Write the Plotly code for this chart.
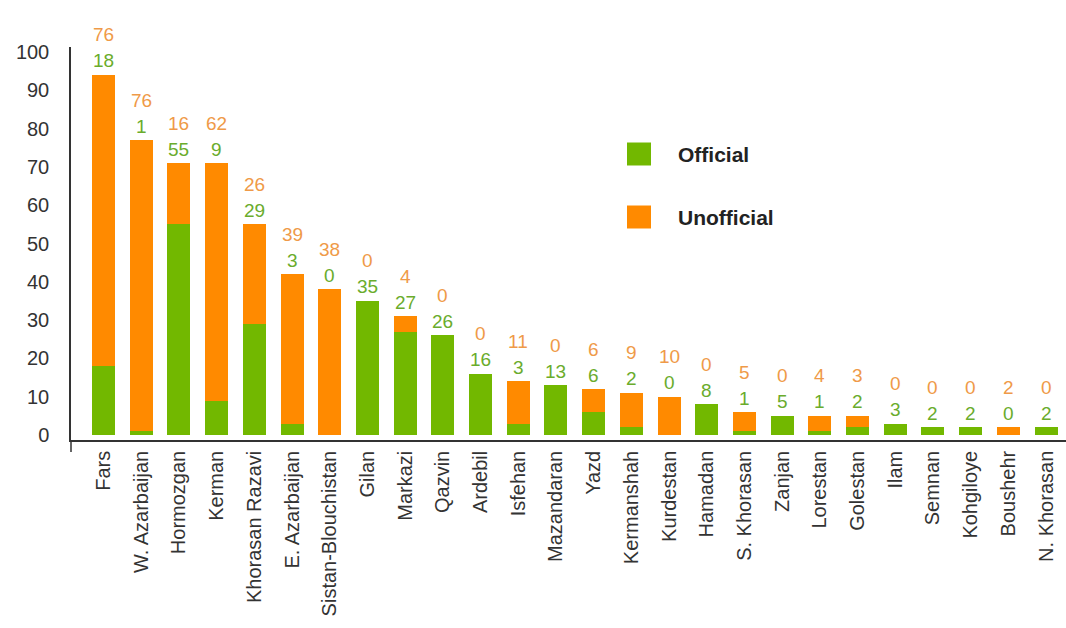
import plotly.graph_objects as go

provinces = ["Fars", "W. Azarbaijan", "Hormozgan", "Kerman", "Khorasan Razavi",
             "E. Azarbaijan", "Sistan-Blouchistan", "Gilan", "Markazi", "Qazvin",
             "Ardebil", "Isfehan", "Mazandaran", "Yazd", "Kermanshah", "Kurdestan",
             "Hamadan", "S. Khorasan", "Zanjan", "Lorestan", "Golestan", "Ilam",
             "Semnan", "Kohgiloye", "Boushehr", "N. Khorasan"]
official = [18, 1, 55, 9, 29, 3, 0, 35, 27, 26, 16, 3, 13, 6, 2, 0, 8, 1, 5, 1, 2, 3, 2, 2, 0, 2]
unofficial = [76, 76, 16, 62, 26, 39, 38, 0, 4, 0, 0, 11, 0, 6, 9, 10, 0, 5, 0, 4, 3, 0, 0, 0, 2, 0]
y_ticks = [0, 10, 20, 30, 40, 50, 60, 70, 80, 90, 100]

GREEN = "#72b800"
ORANGE = "#ff8a00"
GREEN_TXT = "#6aac2c"
ORANGE_TXT = "#ef9a48"
FONT = "Liberation Sans, Arial, sans-serif"

W, H = 1066, 628
ML, MR, MT, MB = 71, 0, 47, 188
PW, PH = W - ML - MR, H - MT - MB


def px_x(x):
    return (x - ML) / PW


def px_y(y):
    return (H - MB - y) / PH


fig = go.Figure()
fig.add_trace(go.Bar(x=provinces, y=official, name="Official",
                     marker=dict(color=GREEN, line=dict(width=0)), showlegend=False))
fig.add_trace(go.Bar(x=provinces, y=unofficial, name="Unofficial",
                     marker=dict(color=ORANGE, line=dict(width=0)), showlegend=False))

annotations = []
for p, o, u in zip(provinces, official, unofficial):
    total = o + u
    annotations.append(dict(x=p, y=total, xref="x", yref="y", text=str(o),
                            showarrow=False, yanchor="middle", yshift=14,
                            font=dict(family=FONT, size=19, color=GREEN_TXT)))
    annotations.append(dict(x=p, y=total, xref="x", yref="y", text=str(u),
                            showarrow=False, yanchor="middle", yshift=40,
                            font=dict(family=FONT, size=19, color=ORANGE_TXT)))

# legend drawn manually (larger swatches than Plotly's built-in legend)
legend_items = [("Official", GREEN, 154), ("Unofficial", ORANGE, 217)]
shapes = []
for name, col, yc in legend_items:
    shapes.append(dict(type="rect", xref="paper", yref="paper",
                       x0=px_x(627), x1=px_x(651), y0=px_y(yc + 11.5), y1=px_y(yc - 11.5),
                       fillcolor=col, line=dict(width=0)))
    annotations.append(dict(xref="paper", yref="paper", x=px_x(676),
                            y=px_y(yc), text=name, showarrow=False,
                            xanchor="left", yanchor="middle",
                            font=dict(family=FONT, size=21, color="#222222", weight="bold")))

# small extension of the y-axis line below the x-axis line
shapes.append(dict(type="line", xref="paper", yref="paper", x0=0, x1=0,
                   y0=px_y(452), y1=0, line=dict(color="#333333", width=1.5)))

fig.update_layout(
    width=W, height=H,
    margin=dict(l=ML, r=MR, t=MT, b=MB),
    paper_bgcolor="white", plot_bgcolor="white",
    barmode="stack", bargap=0.39,
    font=dict(family=FONT, color="#333333"),
    annotations=annotations,
    shapes=shapes,
    showlegend=False,
)

fig.update_xaxes(range=[-0.862, 25.53], showgrid=False, showline=True,
                 linecolor="#333333", linewidth=1.5, tickangle=-90,
                 tickfont=dict(family=FONT, size=20, color="#333333"),
                 ticks="", ticklabelstandoff=1)
fig.update_yaxes(range=[-1.3, 101.3], tickvals=y_ticks, showgrid=False,
                 showline=True, linecolor="#333333", linewidth=1.5,
                 tickfont=dict(family=FONT, size=20, color="#333333"),
                 ticks="", ticklabelstandoff=16, zeroline=False)

fig.write_html("out.html")
